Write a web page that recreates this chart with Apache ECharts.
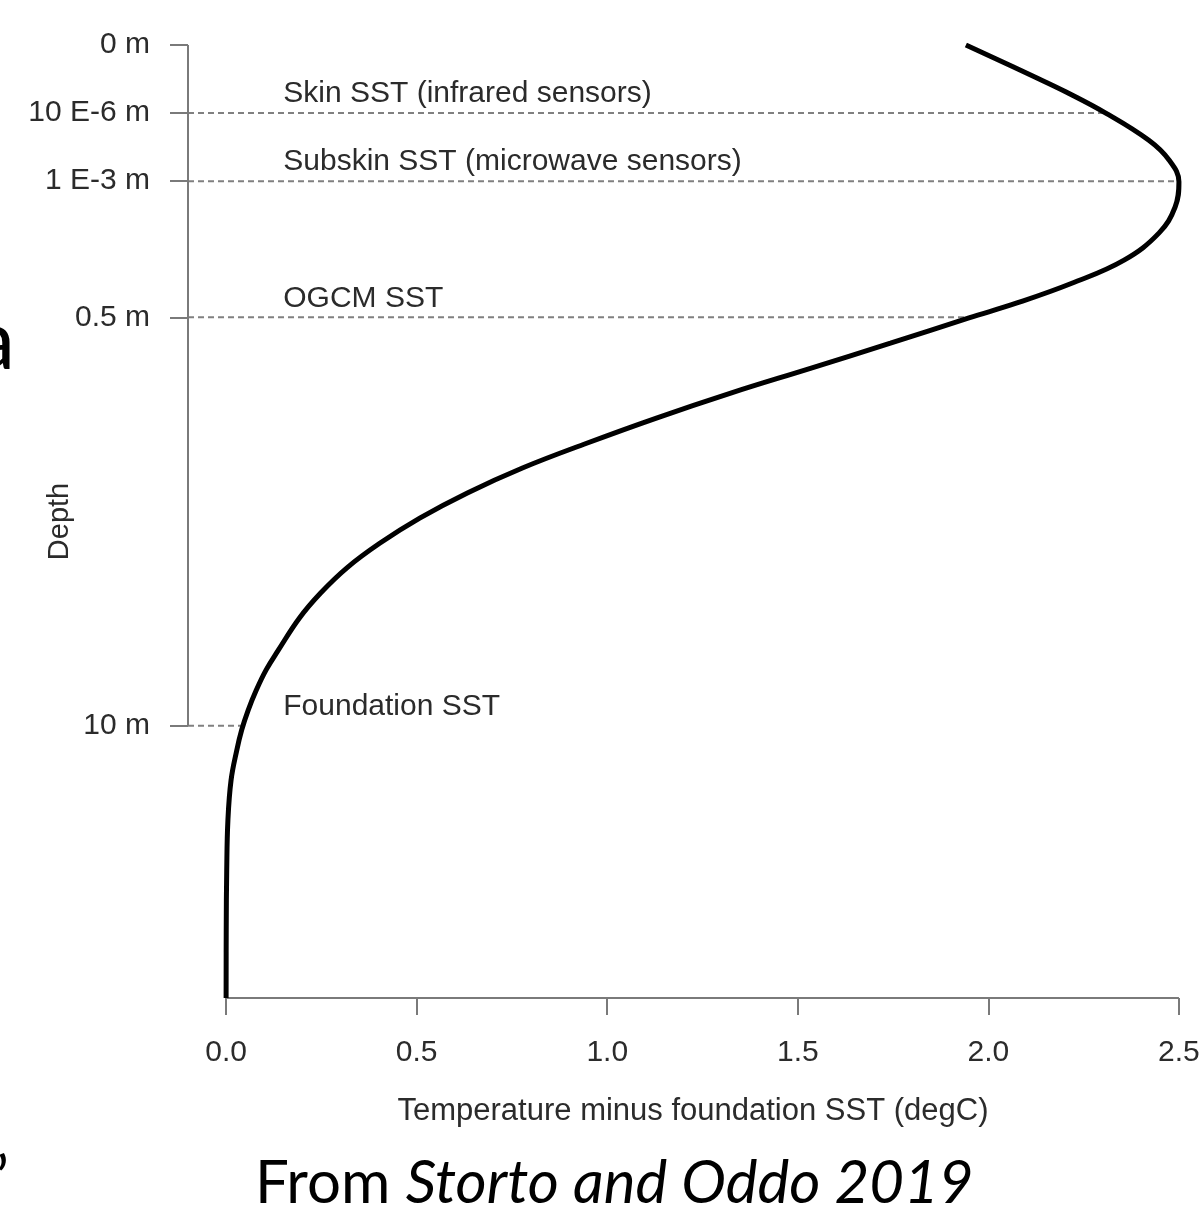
<!DOCTYPE html>
<html>
<head>
<meta charset="utf-8">
<script src="https://cdn.jsdelivr.net/npm/echarts@6/dist/echarts.min.js"></script>
<style>
  html, body { margin: 0; padding: 0; background: #fff; }
  #main { width: 1203px; height: 1224px; }
</style>
</head>
<body>
<div id="main"></div>
<script>
// depth is on a stretched scale: 0 = surface, 1 = 10E-6 m, 2 = 1E-3 m, 4 = 0.5 m, 10 = 10 m
const depthPos = [0, 0.47, 0.69, 1.0, 1.4, 1.69, 2.01, 2.38, 2.76, 3.16, 3.5, 3.79, 4.01, 4.38, 4.75,
  5.11, 5.48, 5.85, 6.21, 6.58, 6.95, 7.32, 7.68, 8.05, 8.42, 8.89, 9.18, 9.48, 9.77, 10.06, 10.36,
  10.8, 11.39, 12.12, 13.0, 14]
const tempDiff = [1.941, 2.122, 2.204, 2.308, 2.421, 2.474, 2.5, 2.49, 2.448, 2.356, 2.219, 2.075, 1.949, 1.743, 1.533,
  1.326, 1.129, 0.946, 0.779, 0.633, 0.508, 0.403, 0.317, 0.248, 0.192, 0.137, 0.105, 0.079, 0.058, 0.041, 0.028,
  0.013, 0.0047, 0.0016, 0.0003, 0]

const depthTicks = [0, 1, 2, 4, 10]
const depthLabels = ['0 m', '10 E-6 m', '1 E-3 m', '0.5 m', '10 m']
const tempTicks = [0, 0.5, 1.0, 1.5, 2.0, 2.5]

const levelPos = [1, 2, 4, 10]
const levelNames = ['Skin SST (infrared sensors)', 'Subskin SST (microwave sensors)', 'OGCM SST', 'Foundation SST']

const xMin = -0.1
const labelX = 0.15

// temperature of the profile at a given depth position (linear between read points)
function curveAt(d) {
  for (let i = 1; i < depthPos.length; i++) {
    if (d <= depthPos[i]) {
      let t = (d - depthPos[i - 1]) / (depthPos[i] - depthPos[i - 1])
      return tempDiff[i - 1] + t * (tempDiff[i] - tempDiff[i - 1])
    }
  }
  return tempDiff[tempDiff.length - 1]
}

const axisGray = '#7a7a7a'
const textGray = '#2b2b2b'

let series = []

// the profile
series.push({
  type: 'line',
  data: depthPos.map((d, i) => [tempDiff[i], d]),
  smooth: 0.4,
  showSymbol: false,
  lineStyle: { color: '#000', width: 5 },
  z: 5
})

// dashed guide lines from the depth axis to the curve
levelPos.forEach(d => {
  series.push({
    type: 'line',
    data: [[xMin, d], [curveAt(d), d]],
    showSymbol: false,
    lineStyle: { color: '#808080', width: 2, type: [6, 4] },
    z: 2
  })
})

// R-style axis lines that only span from first to last tick
series.push({
  type: 'line',
  data: [[xMin, depthTicks[0]], [xMin, depthTicks[depthTicks.length - 1]]],
  showSymbol: false,
  lineStyle: { color: axisGray, width: 2 },
  z: 3
})
series.push({
  type: 'line',
  data: [[tempTicks[0], 14], [tempTicks[tempTicks.length - 1], 14]],
  showSymbol: false,
  lineStyle: { color: axisGray, width: 2 },
  z: 3
})

// level names
series.push({
  type: 'scatter',
  symbolSize: 0,
  itemStyle: { opacity: 1 },
  data: levelPos.map((d, i) => ({ value: [labelX, d], name: levelNames[i] })),
  label: {
    show: true,
    position: [0, -4],
    align: 'left',
    verticalAlign: 'bottom',
    formatter: p => p.name,
    fontFamily: 'Liberation Sans',
    fontSize: 30,
    color: textGray,
    opacity: 1
  },
  z: 6
})

let chart = echarts.init(document.getElementById('main'))
chart.setOption({
  animation: false,
  backgroundColor: '#fff',
  grid: { left: 188, right: 5, top: 45, bottom: 226, containLabel: false, outerBoundsMode: 'none' },
  xAxis: {
    type: 'value',
    min: xMin,
    max: 2.55,
    name: 'Temperature minus foundation SST (degC)',
    nameLocation: 'middle',
    nameGap: 98,
    nameMoveOverlap: false,
    nameTextStyle: { fontFamily: 'Liberation Sans', fontSize: 31, color: textGray },
    axisLine: { show: false, onZero: false },
    axisTick: { show: true, customValues: tempTicks, length: 17, lineStyle: { color: axisGray, width: 2 } },
    axisLabel: {
      customValues: tempTicks,
      formatter: v => v.toFixed(1),
      margin: 40,
      fontFamily: 'Liberation Sans',
      fontSize: 30,
      color: textGray
    },
    splitLine: { show: false }
  },
  yAxis: {
    type: 'value',
    min: 0,
    max: 14,
    inverse: true,
    name: 'Depth',
    nameLocation: 'middle',
    nameGap: 114,
    nameRotate: 90,
    nameMoveOverlap: false,
    nameTextStyle: { fontFamily: 'Liberation Sans', fontSize: 29, color: textGray },
    axisLine: { show: false, onZero: false },
    axisTick: { show: true, customValues: depthTicks, length: 18, lineStyle: { color: axisGray, width: 2 } },
    axisLabel: {
      customValues: depthTicks,
      formatter: v => depthLabels[depthTicks.indexOf(v)],
      margin: 38,
      fontFamily: 'Liberation Sans',
      fontSize: 30,
      color: textGray
    },
    splitLine: { show: false }
  },
  graphic: [
    {
      type: 'text',
      left: 255,
      top: 1154,
      style: {
        text: '{n|From }{i|Storto and Oddo 2019}',
        rich: {
          n: { fontFamily: 'Lato', fontSize: 60, fill: '#000' },
          i: { fontFamily: 'Lato', fontStyle: 'italic', fontSize: 60, fill: '#000' }
        }
      }
    },
    {
      type: 'text',
      right: 1188,
      top: 300,
      style: { text: 'a', fontFamily: 'Lato', fontSize: 84, fill: '#000' }
    },
    {
      type: 'text',
      left: -4,
      top: 1150,
      style: { text: '\u2019', fontFamily: 'Lato', fontSize: 60, fill: '#000' }
    }
  ],
  series: series
})
</script>
</body>
</html>
